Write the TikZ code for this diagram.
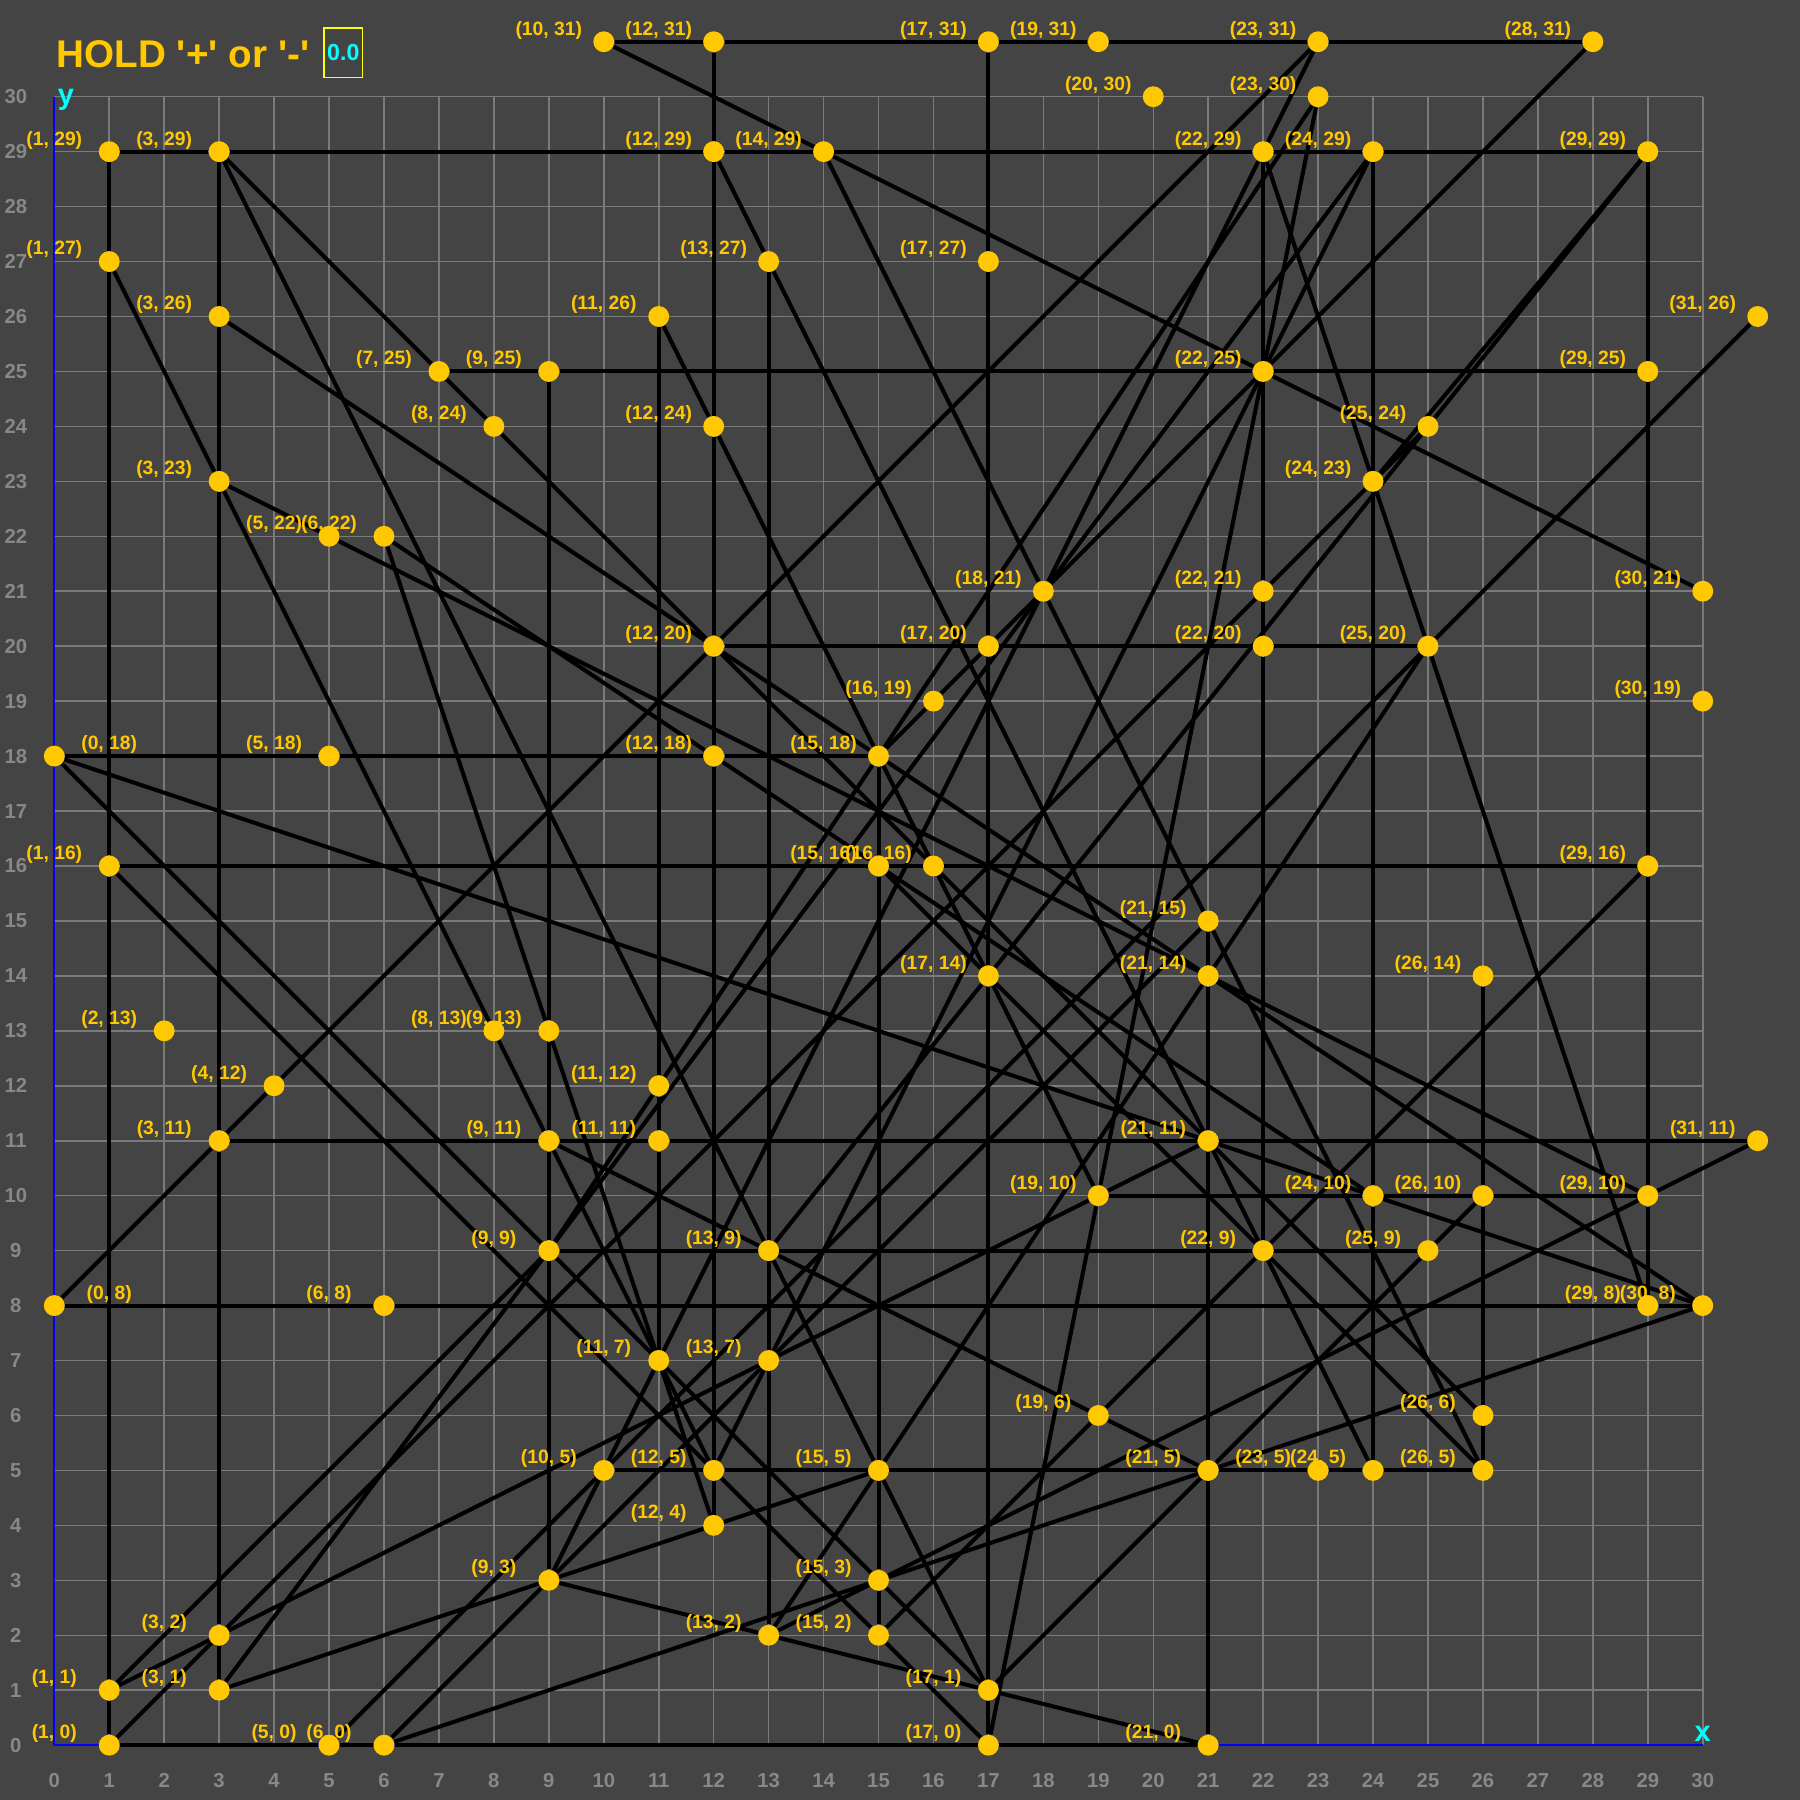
\documentclass[tikz,border=0pt]{standalone}
\usepackage{fontspec}
\setmainfont{Liberation Sans}
\usepackage{tikz}
\usetikzlibrary{positioning,calc}
\definecolor{bgc}{RGB}{68,68,68}
\definecolor{gridc}{RGB}{122,122,122}
\definecolor{gold}{RGB}{255,200,0}
\definecolor{axnum}{RGB}{136,136,136}
\definecolor{axblue}{RGB}{0,0,255}
\definecolor{valc}{RGB}{0,255,255}
\pgfdeclarelayer{grid}
\pgfdeclarelayer{edges}
\pgfsetlayers{grid,edges,main}

\begin{document}
\begin{tikzpicture}[
    x=1cm, y=1cm,
    dot/.style={circle, fill=gold, inner sep=0pt, minimum size=0.38cm},
    lbl/.style={text=gold, font=\fontsize{10}{10}\selectfont\bfseries, inner sep=0pt},
    axlbl/.style={text=axnum, font=\fontsize{10.5}{10.5}\selectfont\bfseries, inner sep=0pt},
    edge/.style={line width=2.1pt, black}
]
\useasboundingbox (-0.988,-0.995) rectangle (31.77,31.76);

\begin{pgfonlayer}{grid}
\fill[bgc] (-0.988,-0.995) rectangle (31.77,31.76);
\draw[gridc, line width=0.8pt] (0,0) grid (30,30);
\draw[axblue, line width=1.2pt] (0,30) -- (0,0) -- (30,0);
\end{pgfonlayer}

% axis ticks
\foreach \i in {0,...,30} {
  \node[axlbl] (xt\i) at (\i,-0.65) {\i};
  \node[axlbl] (yt\i) at (-0.7,\i) {\i};
}
\node[text=valc, font=\fontsize{15}{15}\selectfont\bfseries, anchor=base west, inner sep=0pt] (ylab) at (0.06,29.86) {y};
\node[text=valc, font=\fontsize{15}{15}\selectfont\bfseries, anchor=base, inner sep=0pt] (xlab) at (30,0.06) {x};

% title and value box
\node[text=gold, font=\fontsize{20}{20}\selectfont\bfseries, anchor=base west, inner sep=0pt] (title) at (0.04,30.54)
  {HOLD \textquotesingle+\textquotesingle{} or \textquotesingle-\textquotesingle};
\node[draw={rgb,255:red,255;green,255;blue,0}, line width=0.8pt, text=valc, font=\fontsize{12}{12}\selectfont\bfseries,
  minimum width=0.7cm, minimum height=0.9cm, inner sep=0pt] (val) at (5.26,30.8) {0.0};

% points
\foreach \x/\y in {10/31,12/31,17/31,19/31,23/31,28/31,20/30,23/30,
  1/29,3/29,12/29,14/29,22/29,24/29,29/29,1/27,13/27,17/27,3/26,11/26,31/26,
  7/25,9/25,22/25,29/25,8/24,12/24,25/24,3/23,24/23,5/22,6/22,18/21,22/21,30/21,
  12/20,17/20,22/20,25/20,16/19,30/19,0/18,5/18,12/18,15/18,1/16,15/16,16/16,29/16,
  21/15,17/14,21/14,26/14,2/13,8/13,9/13,4/12,11/12,3/11,9/11,11/11,21/11,31/11,
  19/10,24/10,26/10,29/10,9/9,13/9,22/9,25/9,0/8,6/8,29/8,30/8,11/7,13/7,19/6,26/6,
  10/5,12/5,15/5,21/5,23/5,24/5,26/5,12/4,9/3,15/3,3/2,13/2,15/2,1/1,3/1,17/1,
  1/0,5/0,6/0,17/0,21/0} {
  \pgfmathsetmacro{\lx}{ifthenelse(\x==0,1,\x-1)}
  \node[dot] (n\x-\y) at (\x,\y) {};
  \node[lbl] (l\x-\y) at (\lx,\y+0.21) {(\x, \y)};
}

\begin{pgfonlayer}{edges}
% horizontal
\draw[edge] (n10-31) -- (n12-31) -- (n17-31) -- (n19-31) -- (n23-31) -- (n28-31);
\draw[edge] (n1-29) -- (n3-29) -- (n12-29) -- (n14-29) -- (n22-29) -- (n24-29) -- (n29-29);
\draw[edge] (n7-25) -- (n9-25) -- (n22-25) -- (n29-25);
\draw[edge] (n12-20) -- (n17-20) -- (n22-20) -- (n25-20);
\draw[edge] (n0-18) -- (n5-18) -- (n12-18) -- (n15-18);
\draw[edge] (n1-16) -- (n15-16) -- (n16-16) -- (n29-16);
\draw[edge] (n3-11) -- (n9-11) -- (n11-11) -- (n21-11) -- (n31-11);
\draw[edge] (n19-10) -- (n24-10) -- (n26-10) -- (n29-10);
\draw[edge] (n9-9) -- (n13-9) -- (n22-9) -- (n25-9);
\draw[edge] (n0-8) -- (n6-8) -- (n29-8) -- (n30-8);
\draw[edge] (n10-5) -- (n12-5) -- (n15-5) -- (n21-5) -- (n23-5) -- (n24-5) -- (n26-5);
\draw[edge] (n1-0) -- (n5-0) -- (n6-0) -- (n17-0) -- (n21-0);
% vertical
\draw[edge] (n1-29) -- (n1-27) -- (n1-16) -- (n1-1) -- (n1-0);
\draw[edge] (n3-29) -- (n3-26) -- (n3-23) -- (n3-11) -- (n3-2) -- (n3-1);
\draw[edge] (n9-25) -- (n9-13) -- (n9-11) -- (n9-9) -- (n9-3);
\draw[edge] (n11-26) -- (n11-12) -- (n11-11) -- (n11-7);
\draw[edge] (n12-31) -- (n12-29) -- (n12-24) -- (n12-20) -- (n12-18) -- (n12-5) -- (n12-4);
\draw[edge] (n13-27) -- (n13-9) -- (n13-7) -- (n13-2);
\draw[edge] (n15-18) -- (n15-16) -- (n15-5) -- (n15-3) -- (n15-2);
\draw[edge] (n17-31) -- (n17-27) -- (n17-20) -- (n17-14) -- (n17-1) -- (n17-0);
\draw[edge] (n21-15) -- (n21-14) -- (n21-11) -- (n21-5) -- (n21-0);
\draw[edge] (n22-29) -- (n22-25) -- (n22-21) -- (n22-20) -- (n22-9);
\draw[edge] (n24-29) -- (n24-23) -- (n24-10) -- (n24-5);
\draw[edge] (n26-14) -- (n26-10) -- (n26-6) -- (n26-5);
\draw[edge] (n29-29) -- (n29-25) -- (n29-16) -- (n29-10) -- (n29-8);
% slanted
\draw[edge] (n0-8) -- (n3-11) -- (n4-12) -- (n12-20) -- (n23-31);
\draw[edge] (n10-31) -- (n14-29) -- (n22-25) -- (n30-21);
\draw[edge] (n3-29) -- (n7-25) -- (n8-24) -- (n12-20) -- (n16-16) -- (n21-11) -- (n26-6);
\draw[edge] (n3-29) -- (n13-9) -- (n15-5) -- (n17-1);
\draw[edge] (n1-27) -- (n3-23) -- (n8-13) -- (n9-11) -- (n11-7) -- (n12-5);
\draw[edge] (n6-22) -- (n9-13) -- (n11-7) -- (n12-4);
\draw[edge] (n3-23) -- (n5-22) -- (n21-14) -- (n29-10);
\draw[edge] (n3-26) -- (n12-20) -- (n15-18) -- (n21-14) -- (n30-8);
\draw[edge] (n6-22) -- (n12-18) -- (n15-16) -- (n24-10);
\draw[edge] (n1-1) -- (n3-2) -- (n13-7) -- (n19-10) -- (n21-11);
\draw[edge] (n1-0) -- (n3-2) -- (n22-21) -- (n24-23) -- (n25-24);
\draw[edge] (n5-0) -- (n10-5) -- (n25-20) -- (n31-26);
\draw[edge] (n15-18) -- (n16-19) -- (n17-20) -- (n18-21) -- (n22-25) -- (n28-31);
\draw[edge] (n22-29) -- (n24-23) -- (n25-20) -- (n29-8);
\draw[edge] (n9-3) -- (n10-5) -- (n11-7) -- (n18-21) -- (n22-29) -- (n23-31);
\draw[edge] (n9-9) -- (n11-12) -- (n15-18) -- (n23-30);
\draw[edge] (n0-18) -- (n9-9) -- (n11-7) -- (n15-3) -- (n17-1);
\draw[edge] (n1-16) -- (n12-5) -- (n15-2) -- (n17-0);
\draw[edge] (n0-18) -- (n21-11) -- (n24-10) -- (n30-8);
\draw[edge] (n9-11) -- (n13-9) -- (n19-6) -- (n21-5);
\draw[edge] (n15-2) -- (n19-6) -- (n22-9) -- (n29-16);
\draw[edge] (n12-29) -- (n13-27) -- (n21-11) -- (n22-9) -- (n24-5);
\draw[edge] (n15-16) -- (n17-14) -- (n22-9) -- (n26-5);
\draw[edge] (n13-2) -- (n15-3) -- (n29-10) -- (n31-11);
\draw[edge] (n6-0) -- (n15-3) -- (n21-5) -- (n30-8);
\draw[edge] (n6-0) -- (n9-3) -- (n13-7) -- (n21-15);
\draw[edge] (n3-1) -- (n9-9) -- (n18-21) -- (n24-29);
\draw[edge] (n3-1) -- (n9-3) -- (n12-4) -- (n15-5);
\draw[edge] (n1-1) -- (n9-9);
\draw[edge] (n24-23) -- (n29-29);
\draw[edge] (n13-9) -- (n17-14) -- (n25-24) -- (n29-29);
\draw[edge] (n11-26) -- (n12-24) -- (n15-18) -- (n16-16) -- (n17-14) -- (n19-10);
\draw[edge] (n14-29) -- (n18-21) -- (n21-15) -- (n26-5);
\draw[edge] (n17-0) -- (n19-10) -- (n22-25) -- (n23-30);
\draw[edge] (n17-1) -- (n21-5) -- (n25-9) -- (n26-10);
\draw[edge] (n9-3) -- (n13-2) -- (n17-1) -- (n21-0);
\draw[edge] (n12-5) -- (n13-7) -- (n22-25) -- (n24-29);
\draw[edge] (n13-2) -- (n15-5) -- (n21-14) -- (n25-20);
\end{pgfonlayer}
\end{tikzpicture}
\end{document}
